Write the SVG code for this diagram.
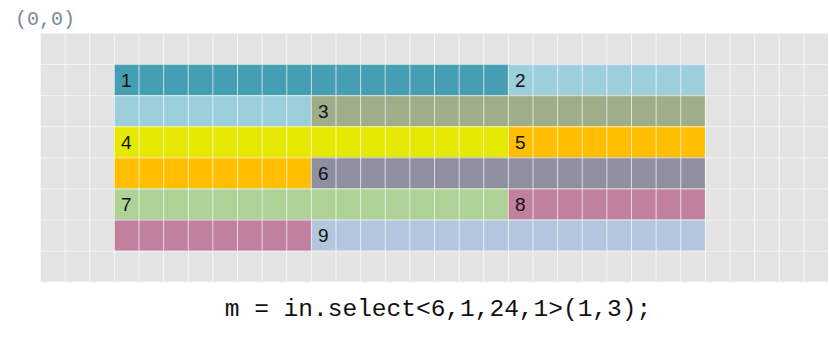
<svg xmlns="http://www.w3.org/2000/svg" width="830" height="340" viewBox="0 0 830 340">
<style>
.lbl{font-family:"Liberation Sans",Arial,sans-serif;font-size:19px;fill:#111}
.code{font-family:"Liberation Mono","Courier New",monospace;fill:#111}
.gl{stroke:#fff;stroke-width:1.6;stroke-opacity:0.85}
</style>
<defs>
<pattern id="grid" x="40" y="33" width="24.625" height="31.1" patternUnits="userSpaceOnUse">
<path d="M0 0V31.1M0 0H24.625" class="gl" fill="none"/>
</pattern>
</defs>
<rect width="830" height="340" fill="#fff"/>
<text x="15" y="25" class="code" font-size="20" style="fill:#778899">(0,0)</text>
<g id="background">
<rect x="40" y="33" width="788" height="248.8" fill="#e3e3e3"/>
</g>
<g id="block1"><rect x="114" y="64.1" width="394" height="31.1" fill="#469eb3"/><text x="121" y="87" class="lbl">1</text></g>
<g id="block2"><rect x="508" y="64.1" width="197" height="31.1" fill="#9ccedb"/><rect x="114" y="95.2" width="197" height="31.1" fill="#9ccedb"/><text x="515" y="87" class="lbl">2</text></g>
<g id="block3"><rect x="311" y="95.2" width="394" height="31.1" fill="#a0ad8a"/><text x="318" y="118" class="lbl">3</text></g>
<g id="block4"><rect x="114" y="126.3" width="394" height="31.1" fill="#e5e800"/><text x="121" y="149" class="lbl">4</text></g>
<g id="block5"><rect x="508" y="126.3" width="197" height="31.1" fill="#ffbf00"/><rect x="114" y="157.4" width="197" height="31.1" fill="#ffbf00"/><text x="515" y="149" class="lbl">5</text></g>
<g id="block6"><rect x="311" y="157.4" width="394" height="31.1" fill="#8f8fa0"/><text x="318" y="180" class="lbl">6</text></g>
<g id="block7"><rect x="114" y="188.5" width="394" height="31.1" fill="#aed196"/><text x="121" y="211" class="lbl">7</text></g>
<g id="block8"><rect x="508" y="188.5" width="197" height="31.1" fill="#c0809e"/><rect x="114" y="219.6" width="197" height="31.1" fill="#c0809e"/><text x="515" y="211" class="lbl">8</text></g>
<g id="block9"><rect x="311" y="219.6" width="394" height="31.1" fill="#b4c6dd"/><text x="318" y="242" class="lbl">9</text></g>
<g id="gridlines">
<rect x="40" y="33" width="788" height="248.8" fill="url(#grid)"/>
</g>
<text x="438" y="316" class="code" font-size="24.5" text-anchor="middle">m = in.select&lt;6,1,24,1&gt;(1,3);</text>
</svg>
